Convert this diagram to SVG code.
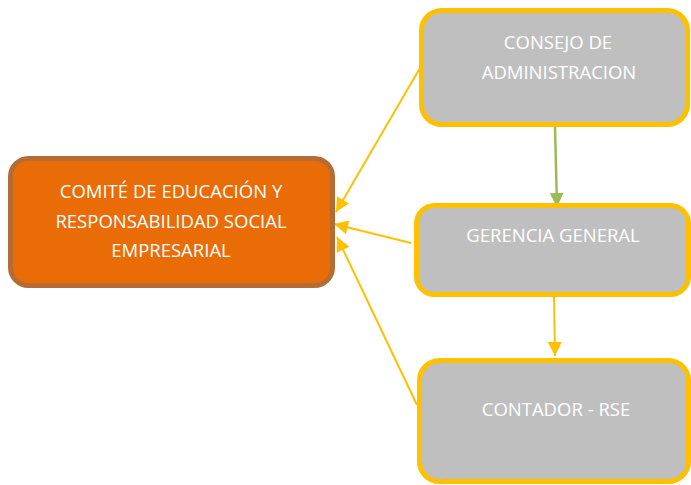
<svg xmlns="http://www.w3.org/2000/svg" width="691" height="485" viewBox="0 0 691 485">
<defs>
<style>
.gray{fill:#BFBFBF;stroke:#FFC000;stroke-width:5}
.orange{fill:#E96C07;stroke:#B46C34;stroke-width:5}
.t{font-family:"Open Sans","Noto Sans","Liberation Sans",sans-serif;font-size:18.5px;fill:#FFFFFF;text-anchor:middle}
.y{stroke:#FFC000;stroke-width:2;fill:none}
.g{stroke:#9BBB59;stroke-width:2.5;fill:none}
</style>
<marker id="ay" viewBox="0 0 10 10" refX="10" refY="5" markerWidth="16" markerHeight="14" markerUnits="userSpaceOnUse" orient="auto"><path d="M0,0 L10,5 L0,10 z" fill="#FFC000"/></marker>
<marker id="ag" viewBox="0 0 10 10" refX="10" refY="5" markerWidth="16" markerHeight="14" markerUnits="userSpaceOnUse" orient="auto"><path d="M0,0 L10,5 L0,10 z" fill="#9BBB59"/></marker>
</defs>
<g id="connectors">
<line class="g" x1="555" y1="127" x2="557" y2="207" marker-end="url(#ag)"/>
<line class="y" x1="554" y1="297" x2="555" y2="356" marker-end="url(#ay)"/>
<line class="y" x1="420" y1="68" x2="336" y2="212" marker-end="url(#ay)"/>
<line class="y" x1="411" y1="243" x2="334" y2="224" marker-end="url(#ay)"/>
<line class="y" x1="417" y1="405" x2="337" y2="237" marker-end="url(#ay)"/>
</g>
<g id="comite">
<rect class="orange" x="10.5" y="158.5" width="322" height="127" rx="18"/>
<text class="t" x="171" y="198">COMITÉ DE EDUCACIÓN Y</text>
<text class="t" x="171" y="228">RESPONSABILIDAD SOCIAL</text>
<text class="t" x="171" y="257">EMPRESARIAL</text>
</g>
<g id="consejo">
<rect class="gray" x="421.5" y="10.5" width="266" height="114" rx="20"/>
<text class="t" x="558" y="49">CONSEJO DE</text>
<text class="t" x="559" y="79">ADMINISTRACION</text>
</g>
<g id="gerencia">
<rect class="gray" x="416.5" y="205.5" width="272" height="89" rx="18"/>
<text class="t" x="553" y="242">GERENCIA GENERAL</text>
</g>
<g id="contador">
<rect class="gray" x="419.5" y="360.5" width="269" height="121" rx="20"/>
<text class="t" x="556" y="416">CONTADOR - RSE</text>
</g>
</svg>
